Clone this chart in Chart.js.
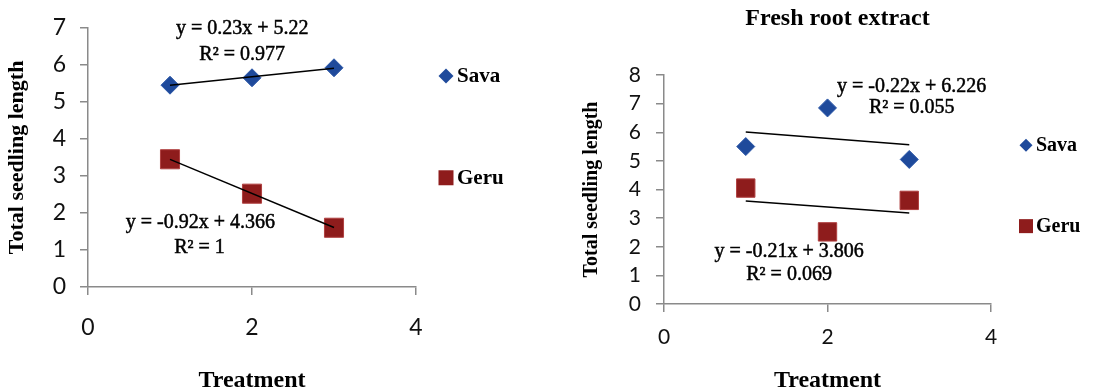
<!DOCTYPE html>
<html><head><meta charset="utf-8">
<script src="https://cdn.jsdelivr.net/npm/chart.js@4.4.0/dist/chart.umd.min.js"></script>
<style>
html,body{margin:0;padding:0;background:#fff;overflow:hidden}
#left{position:absolute;left:0;top:0;width:560px;height:387px}
#right{position:absolute;left:560px;top:0;width:555px;height:387px}
</style></head><body>
<div id="left"><canvas id="c1" width="560" height="387"></canvas></div>
<div id="right"><canvas id="c2" width="555" height="387"></canvas></div>
<script>
// ---- data ----
const treatment = [1, 2, 3];
const trendX = [1, 3];
const seriesNames = ['Sava', 'Geru'];
// left panel
const savaLeft = [5.45, 5.65, 5.92];
const geruLeft = [3.45, 2.52, 1.60];
const savaLeftTrend = [5.45, 5.91];
const geruLeftTrend = [3.446, 1.606];
const leftEquations = ['y = 0.23x + 5.22', 'R² = 0.977', 'y = -0.92x + 4.366', 'R² = 1'];
// right panel
const savaRight = [5.50, 6.85, 5.05];
const geruRight = [4.05, 2.52, 3.62];
const savaRightTrend = [6.006, 5.566];
const geruRightTrend = [3.596, 3.176];
const rightEquations = ['y = -0.22x + 6.226', 'R² = 0.055', 'y = -0.21x + 3.806', 'R² = 0.069'];
const rightTitle = 'Fresh root extract';
const xTitle = 'Treatment';
const yTitle = 'Total seedling length';
const xTicks = [0, 2, 4];

const SAVA = '#1f4a9b';
const GERU = '#8e1c1c';
const AXIS = '#8a8a8a';

function pts(xs, ys) { return xs.map((x, i) => ({x, y: ys[i]})); }

const overlay = {
  id: 'overlay',
  afterDatasetsDraw(chart, args, o) {
    const ctx = chart.ctx, xs = chart.scales.x, ys = chart.scales.y;
    ctx.save();
    ctx.fillStyle = '#000';
    ctx.strokeStyle = '#000';
    ctx.lineWidth = 0.5;
    ctx.textAlign = 'center';
    ctx.textBaseline = 'middle';
    ctx.font = o.eqFont;
    o.notes.forEach(n => {
      const px = xs.getPixelForValue(n.x), py = ys.getPixelForValue(n.y);
      ctx.fillText(n.text, px, py);
      ctx.strokeText(n.text, px, py);
    });
    // legend
    const items = chart.data.datasets.filter(d => d.inLegend);
    const lx = chart.chartArea.right + o.legendDx;
    items.forEach((d, i) => {
      const y = ys.getPixelForValue(o.legendY[i]);
      ctx.fillStyle = d.backgroundColor;
      const r = d.pointStyle === 'rectRot' ? o.diamondR : o.squareR;
      ctx.beginPath();
      if (d.pointStyle === 'rectRot') {
        ctx.moveTo(lx - r, y); ctx.lineTo(lx, y - r); ctx.lineTo(lx + r, y); ctx.lineTo(lx, y + r); ctx.closePath();
      } else {
        ctx.rect(lx - r, y - r, 2 * r, 2 * r);
      }
      ctx.fill();
      ctx.fillStyle = '#000';
      ctx.textAlign = 'left';
      ctx.font = o.legendFont;
      ctx.fillText(d.label, lx + o.textDx, y + 1);
    });
    ctx.restore();
  }
};

function makeDatasets(sava, geru, savaT, geruT, dR, sR) {
  return [
    {type: 'line', label: 'Sava trend', data: pts(trendX, savaT), borderColor: '#000', borderWidth: 1.5, pointRadius: 0, showLine: true, order: 0, fill: false},
    {type: 'line', label: 'Geru trend', data: pts(trendX, geruT), borderColor: '#000', borderWidth: 1.5, pointRadius: 0, showLine: true, order: 0, fill: false},
    {label: seriesNames[0], inLegend: true, data: pts(treatment, sava), pointStyle: 'rectRot', pointRadius: dR, backgroundColor: SAVA, borderColor: '#2d58a8', borderWidth: 1, order: 1},
    {label: seriesNames[1], inLegend: true, data: pts(treatment, geru), pointStyle: 'rect', pointRadius: sR, backgroundColor: GERU, borderColor: '#b04040', borderWidth: 1, order: 1}
  ];
}

function scales(yMax, yW, xH, rightW, tickSize, tickPadY, tickPadX, yTitleSize, yTitlePad) {
  return {
    x: {
      type: 'linear', min: 0, max: 4,
      afterFit(s) { s.height = xH; },
      afterBuildTicks(s) { s.ticks = xTicks.map(v => ({value: v})); },
      border: {display: true, color: AXIS, width: 1.5},
      grid: {display: true, drawOnChartArea: false, drawTicks: true, tickLength: 8, color: AXIS, lineWidth: 1.5},
      ticks: {color: '#111', font: {family: 'Lato', size: tickSize}, padding: tickPadX},
      title: {display: true, text: xTitle, color: '#000', font: {family: 'Liberation Serif', weight: 'bold', size: 24, lineHeight: 1}, padding: {top: 4, bottom: -6}}
    },
    y: {
      type: 'linear', min: 0, max: yMax,
      afterFit(s) { s.width = yW; },
      border: {display: true, color: AXIS, width: 1.5},
      grid: {display: true, drawOnChartArea: false, drawTicks: true, tickLength: 8, color: AXIS, lineWidth: 1.5},
      ticks: {stepSize: 1, color: '#111', font: {family: 'Lato', size: tickSize}, padding: tickPadY},
      title: {display: true, text: yTitle, color: '#000', font: {family: 'Liberation Serif', weight: 'bold', size: yTitleSize, lineHeight: 1}, padding: {top: yTitlePad, bottom: 0}}
    },
    gutter: {
      type: 'linear', position: 'right', display: true,
      afterFit(s) { s.width = rightW; },
      border: {display: false}, grid: {display: false}, ticks: {display: false}
    }
  };
}

new Chart(document.getElementById('c1'), {
  type: 'scatter',
  data: {datasets: makeDatasets(savaLeft, geruLeft, savaLeftTrend, geruLeftTrend, 9, 13.5)},
  options: {
    responsive: false, animation: false, devicePixelRatio: 1,
    layout: {padding: {top: 22, right: 0, left: 0, bottom: 0}},
    plugins: {
      legend: {display: false}, tooltip: {enabled: false},
      overlay: {
        eqFont: '20px "Liberation Serif"',
        notes: [
          {text: leftEquations[0], x: 1.88, y: 6.98},
          {text: leftEquations[1], x: 1.88, y: 6.27},
          {text: leftEquations[2], x: 1.37, y: 1.74},
          {text: leftEquations[3], x: 1.36, y: 1.05}
        ],
        legendDx: 30, legendY: [5.7, 2.95], diamondR: 7.5, squareR: 7.5, textDx: 11,
        legendFont: 'bold 21px "Liberation Serif"'
      }
    },
    scales: scales(7, 88, 100, 144, 23, 14, 19, 22, 6.5)
  },
  plugins: [overlay]
});

new Chart(document.getElementById('c2'), {
  type: 'scatter',
  data: {datasets: makeDatasets(savaRight, geruRight, savaRightTrend, geruRightTrend, 9, 13)},
  options: {
    responsive: false, animation: false, devicePixelRatio: 1,
    layout: {padding: {top: 0, right: 0, left: 0, bottom: 0}},
    plugins: {
      legend: {display: false}, tooltip: {enabled: false},
      title: {display: true, text: rightTitle, color: '#000', font: {family: 'Liberation Serif', weight: 'bold', size: 24, lineHeight: 1}, padding: {top: 7, bottom: 44}},
      overlay: {
        eqFont: '20px "Liberation Serif"',
        notes: [
          {text: rightEquations[0], x: 3.03, y: 7.6},
          {text: rightEquations[1], x: 3.03, y: 6.87},
          {text: rightEquations[2], x: 1.53, y: 1.84},
          {text: rightEquations[3], x: 1.53, y: 1.03}
        ],
        legendDx: 35, legendY: [5.55, 2.72], diamondR: 6.5, squareR: 7, textDx: 10,
        legendFont: 'bold 20px "Liberation Serif"'
      }
    },
    scales: scales(8, 104, 83, 124, 21, 15, 13, 20, 22)
  },
  plugins: [overlay]
});
</script>
</body></html>
